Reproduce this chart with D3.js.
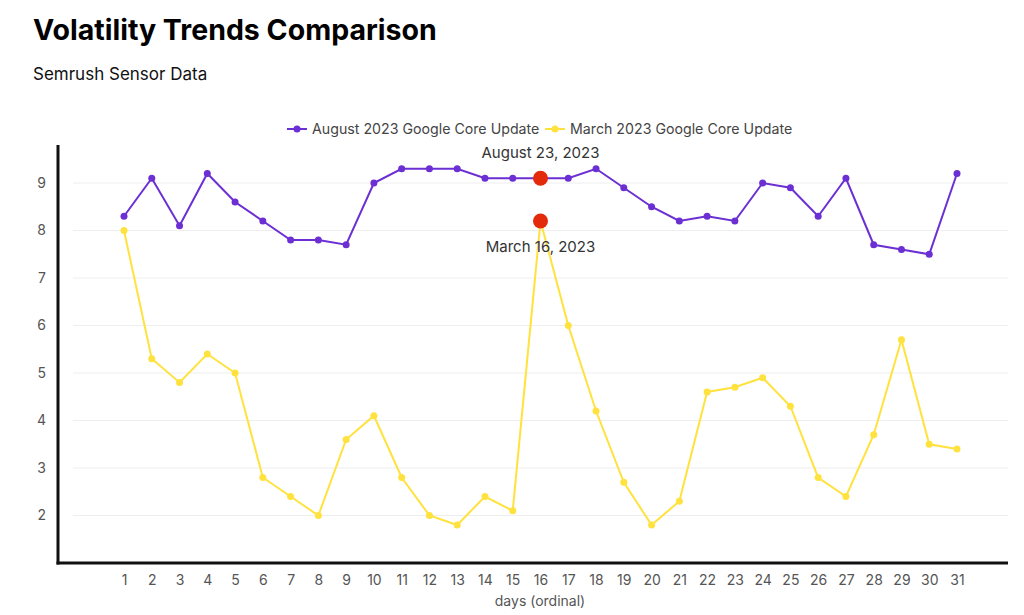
<!DOCTYPE html>
<html lang="en">
<head>
<meta charset="UTF-8">
<title>Volatility Trends Comparison</title>
<script src="https://d3js.org/d3.v7.min.js"></script>
<style>
    html, body { margin: 0; padding: 0; background: #fff; font-family: Inter, sans-serif; }
    svg { display: block; }
</style>
</head>
<body>
<svg width="1024" height="615"></svg>
<script>
    // data
    const days = d3.range(1, 32);
    const august = [8.3, 9.1, 8.1, 9.2, 8.6, 8.2, 7.8, 7.8, 7.7, 9.0, 9.3, 9.3, 9.3, 9.1, 9.1, 9.1,
        9.1, 9.3, 8.9, 8.5, 8.2, 8.3, 8.2, 9.0, 8.9, 8.3, 9.1, 7.7, 7.6, 7.5, 9.2];
    const march = [8.0, 5.3, 4.8, 5.4, 5.0, 2.8, 2.4, 2.0, 3.6, 4.1, 2.8, 2.0, 1.8, 2.4, 2.1, 8.2,
        6.0, 4.2, 2.7, 1.8, 2.3, 4.6, 4.7, 4.9, 4.3, 2.8, 2.4, 3.7, 5.7, 3.5, 3.4];
    const yTicks = [2, 3, 4, 5, 6, 7, 8, 9];
    const seriesNames = ["August 2023 Google Core Update", "March 2023 Google Core Update"];
    const colors = ["#6b2fd3", "#ffe23e"];
    const highlights = [
        { day: 16, value: 9.1, label: "August 23, 2023", above: true },
        { day: 16, value: 8.2, label: "March 16, 2023", above: false }
    ];

    const svg = d3.select("svg");
    const x = d3.scaleLinear().domain([1, 31]).range([124, 957]);
    const y = d3.scaleLinear().domain([1, 9.8]).range([563, 145]);
    const plotLeft = 58, plotRight = 1008, plotBottom = 563, plotTop = 145;

    // titre
    svg.append("text").attr("x", 33).attr("y", 40)
        .attr("font-size", 28.5).attr("font-weight", 700).attr("fill", "#000")
        .text("Volatility Trends Comparison");
    svg.append("text").attr("x", 33).attr("y", 80)
        .attr("font-size", 17).attr("fill", "#111")
        .text("Semrush Sensor Data");

    // grid
    svg.append("g").selectAll("line").data(yTicks).join("line")
        .attr("x1", 73).attr("x2", plotRight)
        .attr("y1", d => y(d)).attr("y2", d => y(d))
        .attr("stroke", "#eeeeee").attr("stroke-width", 1);

    // axes
    const yAxis = svg.append("g").attr("transform", `translate(${plotLeft},0)`)
        .call(d3.axisLeft(y).tickValues(yTicks).tickSize(0).tickPadding(12));
    yAxis.select(".domain").remove();
    const xAxis = svg.append("g").attr("transform", `translate(0,${plotBottom})`)
        .call(d3.axisBottom(x).tickValues(days).tickSize(0).tickPadding(12));
    xAxis.select(".domain").remove();
    svg.selectAll(".tick text").attr("font-family", "Inter, sans-serif")
        .attr("font-size", 14).attr("fill", "#555");

    svg.append("line").attr("x1", plotLeft).attr("x2", plotLeft).attr("y1", plotTop).attr("y2", plotBottom + 1.5)
        .attr("stroke", "#111").attr("stroke-width", 3);
    svg.append("line").attr("x1", plotLeft - 1.5).attr("x2", plotRight).attr("y1", plotBottom).attr("y2", plotBottom)
        .attr("stroke", "#111").attr("stroke-width", 3);

    svg.append("text").attr("x", 540).attr("y", 606).attr("text-anchor", "middle")
        .attr("font-size", 14).attr("fill", "#555").text("days (ordinal)");

    // series
    const line = d3.line().x((d, i) => x(days[i])).y(d => y(d));
    [august, march].forEach((vals, k) => {
        svg.append("path").datum(vals).attr("d", line)
            .attr("fill", "none").attr("stroke", colors[k]).attr("stroke-width", 2);
        svg.append("g").selectAll("circle").data(vals).join("circle")
            .attr("cx", (d, i) => x(days[i])).attr("cy", d => y(d)).attr("r", 3.5)
            .attr("fill", colors[k]);
    });

    // highlighted days
    highlights.forEach(h => {
        svg.append("circle").attr("cx", x(h.day)).attr("cy", y(h.value)).attr("r", 7.5)
            .attr("fill", "#e32a0b");
        svg.append("text").attr("x", x(h.day)).attr("y", y(h.value) + (h.above ? -20 : 31))
            .attr("text-anchor", "middle").attr("font-size", 15).attr("fill", "#333")
            .text(h.label);
    });

    // legend
    const legend = svg.append("g");
    const legendX = [287, 545];
    seriesNames.forEach((name, k) => {
        const g = legend.append("g").attr("transform", `translate(${legendX[k]},129)`);
        g.append("line").attr("x1", 0).attr("x2", 20).attr("stroke", colors[k]).attr("stroke-width", 2);
        g.append("circle").attr("cx", 10).attr("r", 3.5).attr("fill", colors[k]);
        g.append("text").attr("x", 25).attr("y", 5).attr("font-size", 14.2).attr("fill", "#444").text(name);
    });
</script>
</body>
</html>
